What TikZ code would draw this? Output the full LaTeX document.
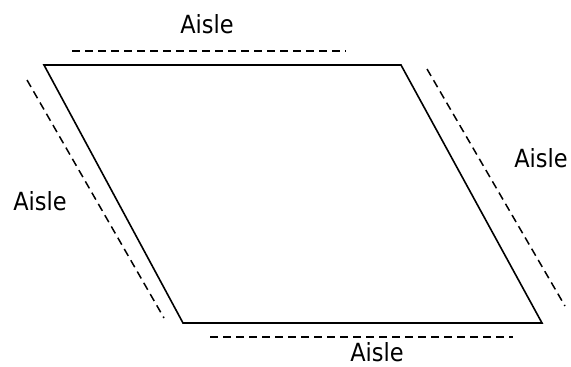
\documentclass[tikz,border=0pt]{standalone}
\usepackage{fontspec}
\setmainfont{DejaVu Sans Condensed}
\begin{document}
\begin{tikzpicture}[x=1pt,y=-1pt,
	aisle/.style={line width=1.5pt,dash pattern=on 8pt off 5pt},
	lbl/.style={inner sep=0pt,font=\fontsize{25}{30}\selectfont}]
	\useasboundingbox (0,0) rectangle (571,367);
	\draw[line width=1.6pt] (44,65) -- (401,65) -- (542,323) -- (183,323) -- cycle;
	\draw[aisle] (72,51) -- (346,51);
	\draw[aisle] (27,80) -- (164,318);
	\draw[aisle] (210,337) -- (513,337);
	\draw[aisle] (427,69) -- (565,306);
	\node[lbl] (top) at (207,24) {Aisle};
	\node[lbl] (left) at (40,201) {Aisle};
	\node[lbl] (right) at (541,158) {Aisle};
	\node[lbl] (bottom) at (377,352) {Aisle};
\end{tikzpicture}
\end{document}
